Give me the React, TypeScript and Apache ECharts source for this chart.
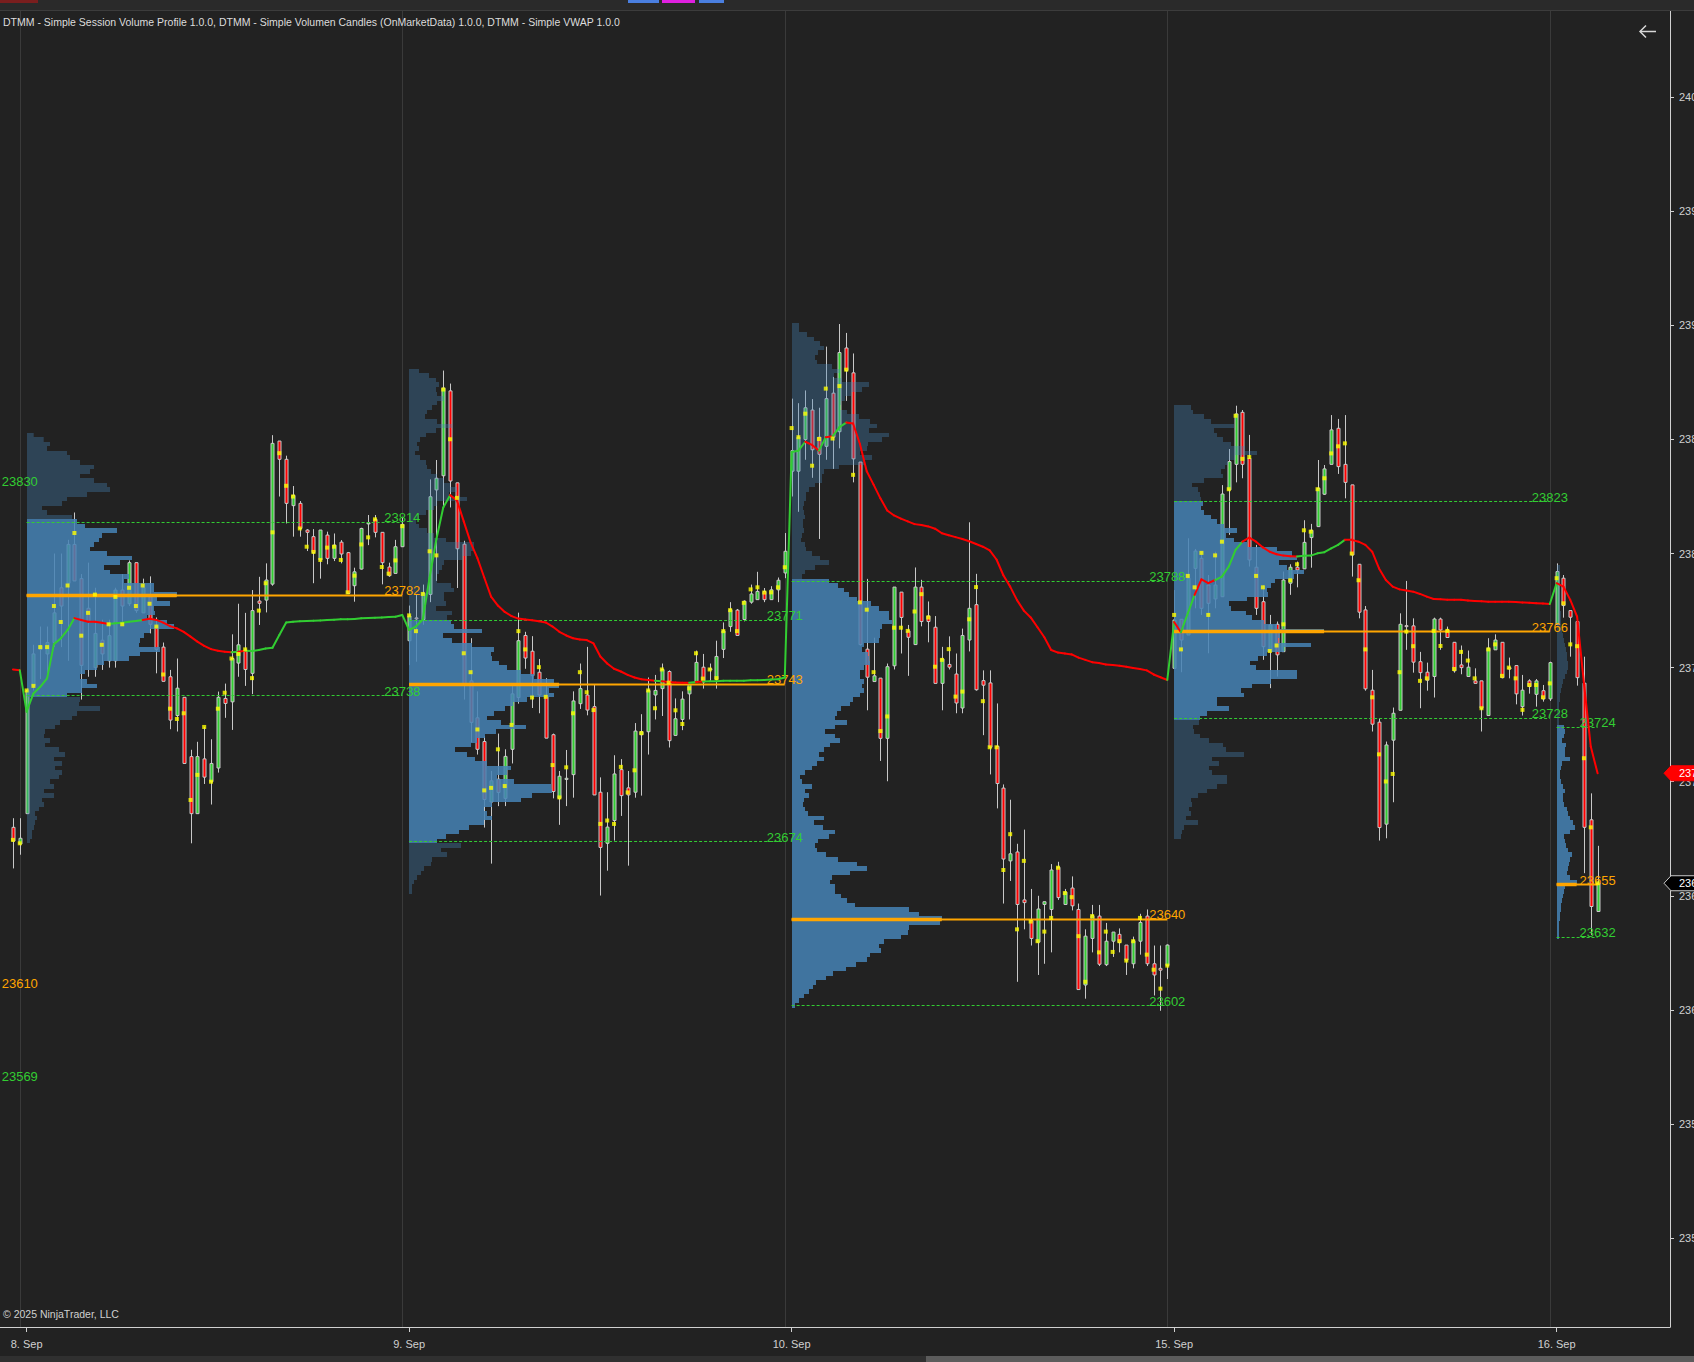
import React, { useEffect, useRef } from "react";
import * as echarts from "echarts";

// ---------- axes ----------
const X_MIN = -3.895;
const X_MAX = 240.6;
const Y_MIN = 23461.0;
const Y_MAX = 24037.8;

const dateSlots = [0, 56, 112, 168, 224];
const dateLabels = ["8. Sep", "9. Sep", "10. Sep", "15. Sep", "16. Sep"];
const sessionBoundaries = [-1, 55, 111, 167, 223];
const priceTicks = [23500, 23550, 23600, 23650, 23700, 23750, 23800, 23850, 23900, 23950, 24000];

// ---------- candles: [open, close, low, high, volume-POC price] ----------
const preStart = -2;
const preBars = [
  [23680, 23674, 23662, 23684, 23674.5],
  [23672.7, 23675.2, 23668, 23684, 23673],
];
const preVwap = [23749.2, 23748.9];

const sep08Start = 0;
const sep08Bars = [
  [23686, 23740, 23686, 23741, 23740], [23742, 23756, 23740, 23760, 23742], [23758, 23759.5, 23745, 23768, 23759],
  [23756, 23761, 23745, 23768, 23759], [23761, 23774, 23759, 23800, 23777], [23785, 23777, 23759, 23800, 23770],
  [23787, 23804, 23753, 23806, 23786], [23804, 23788, 23788, 23818, 23809], [23789, 23751, 23736, 23791, 23764],
  [23776, 23770, 23746, 23796, 23774], [23750, 23765, 23746, 23785, 23782], [23762, 23756, 23749, 23771, 23760],
  [23753, 23764, 23750, 23771, 23769], [23753, 23784, 23750, 23785, 23781], [23784, 23777, 23769, 23791, 23769],
  [23778, 23796, 23777, 23797, 23785], [23796, 23775, 23774, 23796, 23777], [23774, 23785, 23774, 23789, 23786],
  [23781, 23769, 23765, 23790, 23778], [23768, 23758, 23747.5, 23772, 23768], [23759, 23744, 23744, 23761, 23747],
  [23746, 23727, 23723, 23749, 23732], [23729, 23741, 23722, 23754, 23727.5], [23737, 23708, 23708, 23737, 23730],
  [23711, 23686, 23673, 23714, 23692], [23686, 23711, 23686, 23717.5, 23703], [23710, 23702, 23699, 23724, 23724],
  [23700, 23708, 23690, 23718.6, 23700], [23706, 23737, 23704, 23739.5, 23732], [23736.5, 23734.3, 23728, 23743, 23739],
  [23735, 23754, 23722.7, 23764.6, 23754], [23752, 23760, 23746, 23778, 23756], [23757.7, 23749.2, 23742, 23774, 23758],
  [23747.5, 23775, 23738.4, 23784, 23745.4], [23779.2, 23778.2, 23768.7, 23789.8, 23775], [23779.6, 23788.4, 23774.2, 23795.7, 23787],
  [23786.6, 23848.3, 23785.9, 23851.9, 23809.3], [23849.3, 23841.3, 23825, 23849.3, 23844], [23841.3, 23822, 23813.2, 23842.9, 23829.7],
  [23821, 23825.5, 23807.4, 23829.6, 23825], [23822, 23811, 23807.4, 23823, 23811], [23810.3, 23809.3, 23801.1, 23810.7, 23803],
  [23807.4, 23800.4, 23787, 23810.7, 23800.7], [23797.2, 23810.3, 23789, 23810.3, 23797.2], [23808.1, 23797.9, 23795.3, 23809.6, 23802.6],
  [23797.9, 23803.7, 23796.7, 23808.8, 23803], [23805, 23799.8, 23795.7, 23805.9, 23797.2], [23800.4, 23782.5, 23782.5, 23800.7, 23783],
  [23785.9, 23792, 23778.9, 23793.8, 23790.3], [23793.2, 23811, 23793, 23811.3, 23804], [23813, 23813.5, 23803.7, 23816.9, 23807.1],
  [23815, 23809.3, 23807.1, 23816.9, 23815], [23809.3, 23796, 23786.5, 23809.3, 23794.1], [23794.1, 23790.3, 23789.8, 23796, 23791.2],
  [23791.3, 23803, 23791.3, 23806, 23797], [23803, 23812.8, 23803, 23816.1, 23812],
];
const sep08Vwap = [
  23730.7, 23738.7, 23741.6, 23745.3, 23760.3, 23762.8, 23766.5, 23771.7, 23770.9, 23770.1, 23770.1, 23769.7, 23769.1, 23769.4,
  23769.7, 23770.1, 23770.4, 23770.9, 23771.4, 23770.9, 23769.7, 23768.2, 23767.2, 23765.7, 23763.6, 23761.4, 23759.5, 23758.1,
  23757.4, 23757, 23756.7, 23757, 23757.4, 23757.3, 23757.7, 23758.4, 23758.7, 23764.3, 23769.8, 23770.1, 23770.3, 23770.4,
  23770.6, 23770.7, 23770.9, 23771, 23771.2, 23771.2, 23771.3, 23771.6, 23771.7, 23771.9, 23772, 23772.2, 23772.3, 23773.1,
];

const sep09Start = 56;
const sep09Bars = [
  [23761.8, 23772.6, 23751.1, 23777.2, 23772.9], [23771.8, 23771.5, 23752.6, 23781.8, 23766], [23771.1, 23782.6, 23768.8, 23786.4, 23782.3],
  [23782.1, 23824.9, 23778.7, 23832.5, 23801], [23827.9, 23833, 23788, 23841, 23799.2], [23834.1, 23872.5, 23820.2, 23880.2, 23871.9],
  [23871.3, 23831.8, 23820.2, 23874.5, 23850.1], [23831, 23802.1, 23784.9, 23831, 23824.4], [23804.1, 23742.6, 23736, 23805.6, 23756.3],
  [23744.2, 23726, 23717.3, 23762.9, 23748], [23728, 23714.2, 23711.9, 23739.6, 23722.9], [23717.6, 23692.2, 23679.9, 23719.9, 23696.2],
  [23691.1, 23700.4, 23664.1, 23704.7, 23697.3], [23701.1, 23695.3, 23689.3, 23721.1, 23714.2], [23692.7, 23711.1, 23689.3, 23714.2, 23698.1],
  [23714.2, 23738.5, 23708, 23741.9, 23724.9], [23736.9, 23761.8, 23734.2, 23774.1, 23766], [23764.1, 23754.2, 23749.5, 23765.7, 23758],
  [23757.2, 23746.5, 23732.3, 23763.8, 23736.9], [23748, 23738, 23730, 23753.8, 23750.2], [23737.6, 23719.1, 23719.1, 23745.4, 23737.2],
  [23720.6, 23695.7, 23692.7, 23721.1, 23707.3], [23692.7, 23702.4, 23681.1, 23704.7, 23693.1], [23701, 23701.5, 23689.3, 23713.9, 23706.3],
  [23703.1, 23735.4, 23693, 23739.6, 23730], [23734.2, 23740.8, 23731.9, 23751.8, 23748], [23738, 23731.4, 23729.1, 23759.1, 23739.2],
  [23732.9, 23694.2, 23694.2, 23742.6, 23731.4], [23695.4, 23671.2, 23650.1, 23701.9, 23681.5], [23673, 23680.1, 23661, 23695.4, 23683],
  [23683, 23703.4, 23674.2, 23711.6, 23681.5], [23705.3, 23693.9, 23685, 23709.9, 23706.5], [23697.3, 23694.2, 23663.2, 23704.7, 23695.3],
  [23695.4, 23722.2, 23693, 23725.7, 23705], [23720.6, 23721.9, 23693.9, 23729.6, 23721.3], [23721.9, 23740, 23711.9, 23745.7, 23740],
  [23738, 23740, 23727.3, 23746.8, 23732.2], [23740.8, 23749.2, 23728.8, 23751.8, 23749.2], [23748.3, 23718, 23715, 23748.8, 23743.4],
  [23720.3, 23727.6, 23720.3, 23736.5, 23731.3], [23727.3, 23736.2, 23722.6, 23739.6, 23725.3], [23738.5, 23742.6, 23727.3, 23742.6, 23740.9],
  [23743.7, 23752.3, 23743.7, 23757.5, 23756.3], [23750.2, 23743.7, 23740.8, 23756, 23745.2], [23749.2, 23749.5, 23744.2, 23751.8, 23749.2],
  [23744.9, 23754.9, 23740.8, 23761.8, 23745.4], [23758, 23766.1, 23754.2, 23769.8, 23766], [23768, 23775.4, 23765.7, 23778.7, 23775.2],
  [23775.2, 23764.1, 23764.1, 23775.7, 23766], [23771.1, 23779.1, 23770.3, 23779.5, 23778.4], [23778.7, 23782.3, 23778, 23786.4, 23784.3],
  [23779.8, 23783.4, 23779.8, 23792, 23785.2], [23783.4, 23779.8, 23778.7, 23784.9, 23782.9], [23779.8, 23784.1, 23779.8, 23785.7, 23783],
  [23784.1, 23788.3, 23778.7, 23789.5, 23785.2], [23791.5, 23801, 23789.2, 23809, 23794],
];
const sep09Vwap = [
  23766.5, 23768, 23771.1, 23789.5, 23806.4, 23820.2, 23825.6, 23823.3, 23814.1, 23804.9, 23798, 23789.5, 23781.1, 23777.2,
  23774.4, 23772.6, 23771.5, 23771.1, 23770.8, 23770.3, 23769.8, 23768, 23765.7, 23764.1, 23762.9, 23762.3, 23762.1, 23760.6,
  23754.9, 23751.8, 23749.5, 23748.3, 23746.8, 23745.7, 23744.9, 23744.6, 23744.3, 23744, 23743.7, 23743.5, 23743.4, 23743.4,
  23743.7, 23743.9, 23744, 23744, 23744.2, 23744.2, 23744.3, 23744.3, 23744.5, 23744.5, 23744.6, 23744.8, 23744.9, 23745.7,
];

const sep10Start = 112;
const sep10Bars = [
  [23836.1, 23845.1, 23825, 23867.9, 23855], [23836.1, 23851, 23818.3, 23865.9, 23851], [23850, 23863.9, 23841.1, 23871.5, 23861.3],
  [23862.9, 23845.5, 23833.2, 23867.7, 23838.5], [23851, 23843.5, 23806.4, 23863.9, 23850.2], [23847, 23867.9, 23841.1, 23890.7, 23872.3],
  [23870.3, 23851, 23837.1, 23877.4, 23850.4], [23853.4, 23888.1, 23846.1, 23900.6, 23873.4], [23890.1, 23880.2, 23866.9, 23896.7, 23880.6],
  [23879.2, 23841.5, 23831.2, 23887.7, 23834.5], [23840.1, 23760.1, 23759.7, 23840.1, 23778.6], [23758.1, 23745.8, 23731.3, 23788.9, 23775.4],
  [23743.9, 23746.4, 23743.9, 23763.1, 23748], [23745.4, 23719, 23709.1, 23745.4, 23722.2], [23719, 23750.4, 23700.2, 23751.8, 23728.6],
  [23750.8, 23785.3, 23749.2, 23785.3, 23767.5], [23783.1, 23772, 23756.2, 23783.1, 23767.5], [23766.1, 23763.3, 23746.4, 23768.7, 23766.1],
  [23760.1, 23785.3, 23760.1, 23793.9, 23774.6], [23785.3, 23770.2, 23768.1, 23788.5, 23782.2], [23772.6, 23770.2, 23761.1, 23779, 23772],
  [23767.7, 23743.1, 23743.1, 23772.6, 23750.4], [23743.1, 23753.8, 23731.3, 23759.1, 23753.4], [23751.4, 23750.2, 23749.2, 23763.7, 23758.1],
  [23747.2, 23734.5, 23730, 23756.2, 23737.3], [23732.3, 23764.1, 23730, 23767.1, 23739.5], [23762.1, 23776, 23757.1, 23813.7, 23771.2],
  [23777.6, 23740.3, 23739.9, 23791.1, 23785.3], [23744.3, 23742.3, 23720.4, 23748.8, 23735.3], [23743.3, 23715.1, 23703.2, 23748.8, 23715.1],
  [23715.5, 23699.2, 23688.3, 23734.3, 23715.1], [23697.2, 23666.1, 23646.6, 23698.8, 23661.3], [23665.3, 23668.4, 23656.5, 23692.1, 23677],
  [23669.2, 23646.2, 23612.3, 23672.8, 23635.3], [23648.2, 23647, 23635.3, 23679, 23665.3], [23639.1, 23631.3, 23628.2, 23653, 23638.7],
  [23629.7, 23644.2, 23615.3, 23650, 23630.1], [23646.2, 23647.4, 23620.2, 23647.4, 23634.3], [23644, 23661.3, 23625.2, 23663.9, 23640.3],
  [23662.5, 23649.2, 23648.2, 23664.9, 23662.3], [23646.2, 23651.6, 23646.2, 23653, 23651.2], [23653.4, 23645.6, 23643.6, 23658.5, 23649.4],
  [23644, 23608.9, 23608.9, 23646.6, 23632.3], [23610.9, 23632.3, 23604.9, 23635.3, 23612.3], [23631.3, 23641.3, 23625.2, 23646, 23641.1],
  [23641.1, 23620, 23619.2, 23646, 23625.2], [23619.8, 23630.1, 23619.2, 23638.1, 23634.3], [23630.1, 23634.1, 23623.2, 23634.1, 23625.4],
  [23633.1, 23629.5, 23625.2, 23635.7, 23630.1], [23628.4, 23621.8, 23615.3, 23628.4, 23621.6], [23620.2, 23630.3, 23618.2, 23632.1, 23630.1],
  [23630.1, 23638.3, 23624.2, 23642.1, 23640.3], [23641.1, 23620.2, 23619.2, 23644, 23624.2], [23620.2, 23615.3, 23606.3, 23628.2, 23617.6],
  [23618.2, 23617.4, 23599.6, 23628.2, 23609.3], [23619.4, 23628.4, 23613.5, 23628.7, 23619.4],
];
const sep10Vwap = [
  23844.5, 23845.1, 23849, 23847.6, 23845.1, 23851, 23851.4, 23855.4, 23857.4, 23857, 23848, 23836.1, 23830.2, 23824.2,
  23818.9, 23816.7, 23815.3, 23814.1, 23812.9, 23812.5, 23811.9, 23810.9, 23808.9, 23808, 23807.2, 23806.4, 23805.4, 23804.2,
  23803, 23801.4, 23797.4, 23790.5, 23785.5, 23779.6, 23775, 23772, 23767.7, 23763.3, 23757.7, 23756.6, 23756.2, 23755.8,
  23754.4, 23753.4, 23752.4, 23752, 23751.4, 23751.2, 23750.8, 23750.4, 23749.8, 23749.4, 23748.8, 23747, 23745.8, 23744.6,
];

const sep15Start = 168;
const sep15Bars = [
  [23749.7, 23770.9, 23749.7, 23784, 23773.1], [23771.2, 23762.1, 23748, 23771.2, 23758], [23764.3, 23789.2, 23764.3, 23806.7, 23790.2],
  [23793.5, 23801.1, 23776, 23802, 23785.2], [23797.9, 23776, 23773.1, 23800.8, 23800.3], [23786.2, 23778.2, 23756.3, 23790.6, 23773.1],
  [23780.1, 23786.2, 23776, 23800.8, 23799.2], [23781.1, 23826.1, 23781.1, 23830, 23805.2], [23827.9, 23840.3, 23808.2, 23845.8, 23828.2],
  [23839.1, 23861.2, 23831.2, 23864.8, 23860.4], [23861.9, 23839.1, 23833, 23862.9, 23841.5], [23841.7, 23797.2, 23794.3, 23852, 23842.3],
  [23794, 23776, 23773.1, 23803.8, 23790.2], [23778.9, 23759.2, 23753.4, 23786.2, 23785.2], [23757, 23768.7, 23741, 23773.1, 23757.3],
  [23769, 23755.6, 23746.1, 23770.2, 23759.7], [23757, 23788.4, 23757, 23792.1, 23769], [23787, 23794, 23781.9, 23795.3, 23788.3],
  [23794, 23792.8, 23785.2, 23796.5, 23795.3], [23793.3, 23804.9, 23793.3, 23814.6, 23810.2], [23807, 23810.2, 23793.8, 23813, 23809.6],
  [23811.8, 23828.6, 23811.8, 23841, 23828.2], [23826, 23837.1, 23825.7, 23838.8, 23833], [23839.1, 23854.2, 23839.1, 23860.7, 23843.9],
  [23854.9, 23838.1, 23834.9, 23859, 23847], [23839.1, 23831.2, 23824.2, 23860.7, 23848.3], [23830.1, 23799.4, 23789.9, 23830.1, 23800],
  [23795.3, 23774.3, 23771.6, 23795.3, 23788.3], [23775.3, 23740.7, 23739.9, 23777, 23758], [23740.1, 23725.2, 23722, 23749, 23737],
  [23726.1, 23679.9, 23674.2, 23727.8, 23712], [23681.4, 23716.1, 23675.2, 23717.6, 23700.1], [23718.2, 23730, 23691, 23732.5, 23703.4],
  [23731.3, 23769, 23731.3, 23773.8, 23748], [23768.4, 23768, 23757.8, 23788, 23765.8], [23768.3, 23752.4, 23747.8, 23771.6, 23759.4],
  [23752.6, 23747.8, 23732.2, 23756.9, 23744.2], [23748, 23744.5, 23739.9, 23752.2, 23745.3], [23746.1, 23771.3, 23736.9, 23771.9, 23766.1],
  [23771.3, 23766.5, 23757.8, 23771.9, 23759.5], [23766.5, 23763.2, 23763.2, 23768, 23766.1], [23761.1, 23748.6, 23747.8, 23761.1, 23749.4],
  [23751.2, 23750, 23747.1, 23759.7, 23756.9], [23746.1, 23750.2, 23746.1, 23757.5, 23753.1], [23744.2, 23743.1, 23743, 23749.7, 23745.3],
  [23744.2, 23732.2, 23722, 23744.2, 23732.2], [23729, 23758.5, 23729, 23762.9, 23758], [23757.8, 23762.1, 23757.8, 23764.6, 23760.2],
  [23761.1, 23745.6, 23745.3, 23761.1, 23746.4], [23750, 23749.4, 23745.3, 23754.4, 23750], [23750.9, 23738.5, 23733.9, 23750.9, 23745.3],
  [23732.9, 23740.1, 23729, 23746.8, 23731.5], [23744.2, 23741.7, 23738.6, 23744.9, 23742.4], [23738.3, 23744.2, 23732.9, 23745, 23742.4],
  [23739.9, 23736.3, 23735.1, 23742.4, 23737], [23736.3, 23752.2, 23735.4, 23752.6, 23743.1],
];
const sep15Vwap = [
  23770, 23765.5, 23773.8, 23781.9, 23788.7, 23787, 23788.4, 23789.9, 23794.3, 23801.6, 23805.2, 23807, 23805.2, 23802.7,
  23800.8, 23799.7, 23799.1, 23798.8, 23798.7, 23799, 23799.1, 23800.1, 23800.6, 23802.3, 23803.8, 23806, 23806, 23805.2,
  23803.8, 23800.8, 23793.5, 23788.4, 23785.5, 23784.3, 23783.8, 23783.3, 23782.3, 23781.1, 23780.1, 23780, 23779.8, 23779.8,
  23779.7, 23779.4, 23779.2, 23779.1, 23778.9, 23778.9, 23778.9, 23778.9, 23778.8, 23778.6, 23778.4, 23778.2, 23778.1, 23777.9,
];

const sep16Start = 224;
const sep16Bars = [
  [23769, 23792.1, 23769, 23795.7, 23789.2], [23789.2, 23777.2, 23771.9, 23790.6, 23778.2], [23775, 23772.1, 23754.8, 23775, 23760.2],
  [23770.2, 23745.6, 23742.1, 23770.2, 23759.4], [23743.2, 23680, 23659.9, 23754.8, 23710.3], [23683.3, 23645.3, 23632.9, 23694.9, 23680],
  [23643.1, 23655.5, 23643.1, 23671.9, 23655.5],
];
const sep16Vwap = [23787, 23785.5, 23779.7, 23772.4, 23743.2, 23715.4, 23703.7];

// ---------- session volume profiles (2-point rows, top price downward; widths in volume units) ----------
const PROFILE_ROW = 2;
const prof08Top = 23852;
const prof08 = [
  6.7, 16.7, 23, 20, 40, 43, 53, 67, 63, 53, 67, 80, 83, 60, 40, 35, 15, 20, 45, 50, 58, 90, 75, 72, 67, 63, 80, 105, 93, 77,
  83, 102, 97, 127, 127, 150, 130, 143, 127, 128, 120, 140, 147, 123, 117, 113, 112, 133, 113, 102, 77, 70, 58, 53, 60, 70,
  55, 40, 53, 52, 73, 50, 45, 33, 28, 18, 17, 23, 18, 32, 38, 27, 35, 28, 35, 32, 23, 27, 17, 27, 15, 17, 12, 8, 10, 8, 7, 5, 5, 3,
];
const prof09Top = 23880;
const prof09 = [
  10, 20, 27, 30, 27, 28, 35, 28, 23, 18, 16, 28, 43, 27, 17, 11, 8, 10, 6, 11, 17, 18, 22, 28, 35, 41, 48, 40, 58, 28,
  25, 17, 10, 7, 10, 18, 25, 37, 65, 65, 62, 53, 35, 33, 30, 28, 28, 42, 45, 35, 35, 37, 27, 43, 38, 42, 45, 73, 34, 43,
  63, 85, 82, 83, 90, 98, 112, 125, 145, 150, 140, 145, 118, 104, 96, 85, 78, 92, 117, 87, 76, 68, 62, 46, 58, 66, 78, 102, 98, 88,
  105, 142, 143, 123, 112, 83, 75, 78, 83, 75, 60, 50, 37, 28, 52, 32, 38, 23, 22, 15, 12, 8, 5, 3, 3,
];
const prof10Top = 23900;
const prof10 = [
  7, 7, 15, 22, 28, 32, 26, 23, 25, 40, 48, 42, 50, 77, 70, 59, 53, 49, 48, 55, 67, 78, 85, 77, 97, 90, 76, 75, 68, 80,
  73, 47, 32, 30, 30, 23, 17, 14, 14, 12, 11, 12, 13, 11, 11, 12, 10, 9, 13, 14, 20, 28, 37, 23, 13, 10, 37, 46, 52, 57,
  65, 79, 87, 97, 97, 100, 90, 88, 88, 87, 72, 70, 76, 77, 78, 72, 68, 68, 72, 70, 72, 68, 61, 58, 49, 45, 43, 55, 43, 33,
  43, 48, 38, 32, 27, 32, 25, 20, 13, 8, 10, 20, 13, 17, 12, 11, 13, 16, 32, 22, 31, 43, 37, 26, 23, 25, 34, 46, 65, 75,
  58, 40, 38, 43, 43, 49, 55, 63, 117, 127, 150, 148, 117, 116, 109, 92, 87, 89, 78, 75, 64, 54, 41, 34, 24, 21, 17, 12, 7, 3,
];
const prof15Top = 23864;
const prof15 = [
  17, 19, 30, 37, 60, 40, 43, 49, 57, 71, 83, 61, 54, 51, 47, 49, 30, 18, 24, 26, 27, 29, 27, 30, 37, 43, 50, 63, 52, 60,
  73, 103, 118, 123, 105, 113, 130, 120, 101, 97, 93, 94, 73, 55, 57, 72, 78, 90, 103, 150, 106, 104, 137, 110, 93, 84, 76, 82, 123, 123,
  97, 78, 67, 70, 43, 43, 55, 33, 26, 25, 19, 20, 26, 35, 49, 52, 70, 38, 45, 35, 38, 53, 53, 43, 33, 24, 17, 18, 15, 17,
  12, 24, 10, 8, 7,
];
const prof16Top = 23794;
const prof16 = [
  3, 3, 3, 3, 3, 3, 3, 3, 3, 3, 4, 4, 4, 4, 5, 6, 7, 8, 9, 10, 10, 11, 11, 10, 8, 6, 5, 4, 3, 3,
  2, 2, 3, 2, 2, 7, 8, 7, 5, 9, 8, 8, 13, 5, 4, 3, 3, 4, 6, 8, 6, 6, 7, 10, 11, 13, 16, 18, 13, 7,
  8, 9, 11, 15, 13, 12, 11, 10, 13, 20, 8, 7, 6, 5, 4, 4, 3, 3, 2, 2, 2, 2,
];

// ---------- session levels (previous session labels, then 8, 9, 10, 15, 16 Sep) ----------
const levelStart = [-1, 0, 56, 112, 168, 224];
const levelEnd = [-1, 55, 111, 167, 223, 230];
const vahLevels = [23830, 23814, 23771, 23788, 23823, 23724];
const pocLevels = [23610, 23782, 23743, 23640, 23766, 23655];
const valLevels = [23569, 23738, 23674, 23602, 23728, 23632];

// ---------- styling ----------
const BG = "#222222";
const GREEN = "#32cd32";
const RED = "#ff0000";
const ORANGE = "#ffa500";
const WICK = "#c8c8c8";
const AXIS = "#d0d0d0";
const FONT = "'Liberation Sans', Arial, sans-serif";
const VA_FILL = "rgba(70,130,180,0.86)";
const OUT_FILL = "rgba(70,130,180,0.36)";
const VOLUME_TO_SLOTS = 1 / 6.83;

export default function App() {
  const ref = useRef<HTMLDivElement>(null);

  useEffect(() => {
    if (!ref.current) return;
    const chart = echarts.init(ref.current, null, { renderer: "svg" });

    const sessions = [
      { start: preStart, bars: preBars, vwap: preVwap },
      { start: sep08Start, bars: sep08Bars, vwap: sep08Vwap },
      { start: sep09Start, bars: sep09Bars, vwap: sep09Vwap },
      { start: sep10Start, bars: sep10Bars, vwap: sep10Vwap },
      { start: sep15Start, bars: sep15Bars, vwap: sep15Vwap },
      { start: sep16Start, bars: sep16Bars, vwap: sep16Vwap },
    ];
    const candleData: number[][] = [];
    const pocDots: number[][] = [];
    const vwapPts: { i: number; v: number; c: number }[] = [];
    sessions.forEach((s) => {
      s.bars.forEach((b, k) => {
        const i = s.start + k;
        candleData.push([i, b[0], b[1], b[2], b[3]]);
        pocDots.push([i, b[4]]);
        vwapPts.push({ i, v: s.vwap[k], c: b[1] });
      });
    });
    const vwapData: number[][] = [];
    for (let k = 1; k < vwapPts.length; k++) {
      vwapData.push([vwapPts[k].i, vwapPts[k].v, vwapPts[k - 1].v, vwapPts[k].c]);
    }

    const profiles = [
      { start: sep08Start, top: prof08Top, w: prof08, vah: vahLevels[1], val: valLevels[1] },
      { start: sep09Start, top: prof09Top, w: prof09, vah: vahLevels[2], val: valLevels[2] },
      { start: sep10Start, top: prof10Top, w: prof10, vah: vahLevels[3], val: valLevels[3] },
      { start: sep15Start, top: prof15Top, w: prof15, vah: vahLevels[4], val: valLevels[4] },
      { start: sep16Start, top: prof16Top, w: prof16, vah: vahLevels[5], val: valLevels[5] },
    ];
    const profileData: number[][] = [];
    const pocWidth: number[] = [0];
    profiles.forEach((p) => {
      pocWidth.push(Math.max(...p.w));
      p.w.forEach((w, k) => {
        const price = p.top - k * PROFILE_ROW;
        const inVa = price <= p.vah && price >= p.val ? 1 : 0;
        profileData.push([p.start, price, w, inVa]);
      });
    });

    const levelData: number[][] = [];
    levelStart.forEach((s, k) => {
      levelData.push([s, levelEnd[k], vahLevels[k], 0, 0]);
      levelData.push([s, levelEnd[k], pocLevels[k], 1, pocWidth[k]]);
      levelData.push([s, levelEnd[k], valLevels[k], 0, 0]);
    });

    const option: any = {
      animation: false,
      backgroundColor: BG,
      grid: { left: 0, right: 24, top: 11, bottom: 35, containLabel: false, outerBoundsMode: "none" },
      xAxis: {
        type: "value",
        min: X_MIN,
        max: X_MAX,
        axisLine: { show: true, onZero: false, lineStyle: { color: AXIS, width: 1 } },
        axisTick: { show: true, customValues: dateSlots, length: 5, lineStyle: { color: AXIS } },
        axisLabel: {
          customValues: dateSlots,
          color: AXIS,
          fontSize: 11,
          fontFamily: FONT,
          margin: 11,
          formatter: (v: number) => {
            const k = dateSlots.indexOf(Math.round(v));
            return k >= 0 ? dateLabels[k] : "";
          },
        },
        splitLine: { show: false },
      },
      yAxis: {
        type: "value",
        position: "right",
        min: Y_MIN,
        max: Y_MAX,
        scale: true,
        axisLine: { show: true, onZero: false, lineStyle: { color: AXIS, width: 1 } },
        axisTick: { show: true, customValues: priceTicks, length: 4, lineStyle: { color: AXIS } },
        axisLabel: {
          customValues: priceTicks,
          color: AXIS,
          fontSize: 11,
          fontFamily: FONT,
          margin: 9,
          formatter: (v: number) => v.toFixed(2),
        },
        splitLine: { show: false },
      },
      series: [
        {
          type: "custom",
          name: "sessions",
          z: 1,
          silent: true,
          data: sessionBoundaries.map((s) => [s, Y_MIN, Y_MAX]),
          encode: { x: 0, y: [1, 2] },
          renderItem: (params: any, api: any) => {
            const a = api.coord([api.value(0), Y_MAX]);
            const b = api.coord([api.value(0), Y_MIN]);
            const x = Math.round(a[0]) + 0.5;
            return { type: "line", shape: { x1: x, y1: a[1], x2: x, y2: b[1] }, style: { stroke: "#3a3a3a", lineWidth: 1 } };
          },
        },
        {
          type: "custom",
          name: "candles",
          z: 2,
          silent: true,
          data: candleData,
          encode: { x: 0, y: [1, 2, 3, 4] },
          renderItem: (params: any, api: any) => {
            const x = api.value(0);
            const o = api.value(1), c = api.value(2), l = api.value(3), h = api.value(4);
            const pH = api.coord([x, h]);
            const pL = api.coord([x, l]);
            const pO = api.coord([x, o]);
            const pC = api.coord([x, c]);
            const cx = Math.round(pH[0]) + 0.5;
            const top = Math.min(pO[1], pC[1]);
            const bot = Math.max(pO[1], pC[1]);
            return {
              type: "group",
              children: [
                { type: "line", shape: { x1: cx, y1: pH[1], x2: cx, y2: pL[1] }, style: { stroke: WICK, lineWidth: 1 } },
                {
                  type: "rect",
                  shape: { x: cx - 1.5, y: top, width: 3, height: Math.max(bot - top, 1) },
                  style: { fill: c >= o ? GREEN : RED, stroke: WICK, lineWidth: 1 },
                },
              ],
            };
          },
        },
        {
          type: "custom",
          name: "profile",
          z: 3,
          silent: true,
          data: profileData,
          encode: { x: 0, y: 1 },
          renderItem: (params: any, api: any) => {
            const s = api.value(0), p = api.value(1), w = api.value(2), va = api.value(3);
            const a = api.coord([s, p + PROFILE_ROW / 2]);
            const b = api.coord([s + w * VOLUME_TO_SLOTS, p - PROFILE_ROW / 2]);
            const y0 = Math.round(a[1]);
            const y1 = Math.round(b[1]);
            return {
              type: "rect",
              shape: { x: Math.round(a[0]), y: y0, width: Math.max(b[0] - a[0], 1), height: Math.max(y1 - y0, 1) },
              style: { fill: va ? VA_FILL : OUT_FILL },
            };
          },
        },
        {
          type: "custom",
          name: "levels",
          z: 4,
          silent: true,
          data: levelData,
          encode: { x: [0, 1], y: 2 },
          renderItem: (params: any, api: any) => {
            const s = api.value(0), e = api.value(1), p = api.value(2), kind = api.value(3), pw = api.value(4);
            const a = api.coord([s, p]);
            const b = api.coord([e, p]);
            const y = Math.round(a[1]) + 0.5;
            const color = kind === 1 ? ORANGE : GREEN;
            const children: any[] = [];
            if (e > s) {
              if (kind === 1) {
                const c = api.coord([s + pw * VOLUME_TO_SLOTS, p]);
                children.push({ type: "line", shape: { x1: a[0], y1: y, x2: b[0], y2: y }, style: { stroke: ORANGE, lineWidth: 2 } });
                children.push({ type: "line", shape: { x1: a[0], y1: y, x2: c[0], y2: y }, style: { stroke: ORANGE, lineWidth: 3.5 } });
              } else {
                children.push({
                  type: "line",
                  shape: { x1: a[0], y1: y, x2: b[0], y2: y },
                  style: { stroke: GREEN, lineWidth: 1, lineDash: [3, 2] },
                });
              }
            }
            children.push({
              type: "text",
              x: b[0],
              y: a[1] - 4,
              style: {
                text: String(p),
                fill: color,
                font: `13px ${FONT}`,
                align: "center",
                verticalAlign: "middle",
                textAlign: "center",
                textVerticalAlign: "middle",
              },
            });
            return { type: "group", children };
          },
        },
        {
          type: "custom",
          name: "vwap",
          z: 5,
          silent: true,
          data: vwapData,
          encode: { x: 0, y: [1, 2] },
          renderItem: (params: any, api: any) => {
            const i = api.value(0), v = api.value(1), pv = api.value(2), c = api.value(3);
            const a = api.coord([i - 1, pv]);
            const b = api.coord([i, v]);
            return {
              type: "line",
              shape: { x1: a[0], y1: a[1], x2: b[0], y2: b[1] },
              style: { stroke: c >= v ? GREEN : RED, lineWidth: 2, lineCap: "round" },
            };
          },
        },
        {
          type: "scatter",
          name: "volume poc",
          z: 6,
          silent: true,
          symbol: "rect",
          symbolSize: 4,
          itemStyle: { color: "#ffff00" },
          data: pocDots,
        },
      ],
    };

    chart.setOption(option);

    const lastVwap = sep16Vwap[sep16Vwap.length - 1];
    const lastClose = sep16Bars[sep16Bars.length - 1][1];
    const axisX = chart.convertToPixel({ xAxisIndex: 0 }, X_MAX) as number;
    const tag = (value: number, fill: string, stroke: string) => {
      const y = chart.convertToPixel({ yAxisIndex: 0 }, value) as number;
      const tip = axisX - 6;
      return [
        {
          type: "polygon",
          z: 100,
          shape: { points: [[tip, y], [axisX + 1, y - 7.5], [1700, y - 7.5], [1700, y + 7.5], [axisX + 1, y + 7.5]] },
          style: { fill, stroke, lineWidth: 1 },
        },
        {
          type: "text",
          z: 101,
          x: axisX + 9,
          y,
          style: { text: value.toFixed(2), fill: "#ffffff", font: `11px ${FONT}`, align: "left", verticalAlign: "middle", textAlign: "left", textVerticalAlign: "middle" },
        },
      ];
    };

    chart.setOption({
      graphic: [
        { type: "rect", z: 50, shape: { x: 0, y: 0, width: 1694, height: 10 }, style: { fill: "#2a2a2a" } },
        { type: "line", z: 51, shape: { x1: 0, y1: 10.5, x2: 1694, y2: 10.5 }, style: { stroke: "#3c3c3c", lineWidth: 1 } },
        { type: "rect", z: 52, shape: { x: 0, y: 0, width: 38, height: 3 }, style: { fill: "#7a1e1e" } },
        { type: "rect", z: 52, shape: { x: 628, y: 0, width: 31, height: 3 }, style: { fill: "#4a7fe0" } },
        { type: "rect", z: 52, shape: { x: 662, y: 0, width: 33, height: 3 }, style: { fill: "#e020e0" } },
        { type: "rect", z: 52, shape: { x: 699, y: 0, width: 25, height: 3 }, style: { fill: "#4a7fe0" } },
        {
          type: "text",
          z: 60,
          x: 3,
          y: 22,
          style: {
            text: "DTMM - Simple Session Volume Profile 1.0.0, DTMM - Simple Volumen Candles (OnMarketData) 1.0.0, DTMM - Simple VWAP 1.0.0",
            fill: "#dddddd",
            font: `10.5px ${FONT}`,
            align: "left",
            verticalAlign: "middle",
            textAlign: "left",
            textVerticalAlign: "middle",
          },
        },
        {
          type: "text",
          z: 60,
          x: 3,
          y: 1314,
          style: { text: "© 2025 NinjaTrader, LLC", fill: "#d0d0d0", font: `10.5px ${FONT}`, align: "left", verticalAlign: "middle", textAlign: "left", textVerticalAlign: "middle" },
        },
        {
          type: "polyline",
          z: 60,
          shape: { points: [[1646, 25.5], [1640, 31.5], [1646, 37.5]] },
          style: { stroke: "#d8d8d8", lineWidth: 1.5, fill: "none" },
        },
        { type: "line", z: 60, shape: { x1: 1640, y1: 31.5, x2: 1656, y2: 31.5 }, style: { stroke: "#d8d8d8", lineWidth: 1.5 } },
        { type: "rect", z: 50, shape: { x: 0, y: 1356, width: 1694, height: 6 }, style: { fill: "#303030" } },
        { type: "rect", z: 51, shape: { x: 926, y: 1356, width: 768, height: 6 }, style: { fill: "#5c5c5c" } },
        ...tag(lastVwap, RED, RED),
        ...tag(lastClose, "#000000", "#c8c8c8"),
      ],
    });

    return () => chart.dispose();
  }, []);

  return (
    <div
      ref={ref}
      style={{ position: "fixed", left: 0, top: 0, width: 1694, height: 1362, background: BG }}
    />
  );
}
